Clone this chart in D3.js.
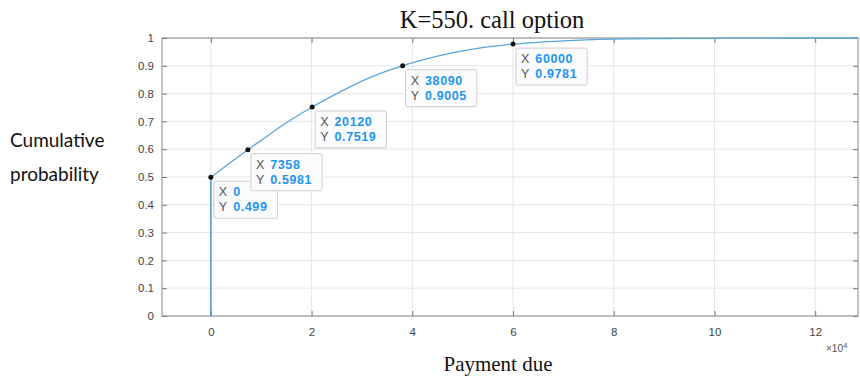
<!DOCTYPE html>
<html>
<head>
<meta charset="utf-8">
<script src="https://cdn.jsdelivr.net/npm/d3@7"></script>
<style>
  html, body { margin: 0; padding: 0; background: #ffffff; }
  svg { display: block; }
</style>
</head>
<body>
<svg id="chart" width="860" height="380"></svg>
<script>
// Cumulative distribution of the payment due for a call option with K=550
// Jump at zero: the probability mass of no payment
const jumpX = [0, 0];
const jumpY = [0, 0.499];
// Continuous part of the distribution
const curveX = [0, 7358, 10000, 15000, 20120, 25000, 30000, 38090, 45000, 52000, 60000, 70000, 80000, 90000, 100000, 115000, 128500];
const curveY = [0.499, 0.5981, 0.632, 0.695, 0.7519, 0.800, 0.845, 0.9005, 0.935, 0.960, 0.9781, 0.990, 0.996, 0.998, 0.999, 1.0, 1.0];

// Data tips shown on the curve
const tipX = [0, 7358, 20120, 38090, 60000];
const tipY = [0.499, 0.5981, 0.7519, 0.9005, 0.9781];
const tipXText = ["0", "7358", "20120", "38090", "60000"];
const tipYText = ["0.499", "0.5981", "0.7519", "0.9005", "0.9781"];

// Tick values and labels
const xTicks = [0, 20000, 40000, 60000, 80000, 100000, 120000];
const xTickLabels = ["0", "2", "4", "6", "8", "10", "12"];
const yTicks = [0, 0.1, 0.2, 0.3, 0.4, 0.5, 0.6, 0.7, 0.8, 0.9, 1];
const yTickLabels = ["0", "0.1", "0.2", "0.3", "0.4", "0.5", "0.6", "0.7", "0.8", "0.9", "1"];

const svg = d3.select("#chart");
const plotL = 162, plotR = 858, plotT = 38, plotB = 316;

const x = d3.scaleLinear().domain([-9700, 128500]).range([plotL, plotR]);
const y = d3.scaleLinear().domain([0, 1]).range([plotB, plotT]);

const tickFont = "Liberation Sans, Arial, sans-serif";
const serif = "Liberation Serif, Times New Roman, serif";

// Grid
const grid = svg.append("g");
grid.selectAll("line.gx").data(xTicks).enter().append("line")
  .attr("x1", d => x(d)).attr("x2", d => x(d))
  .attr("y1", plotT).attr("y2", plotB)
  .attr("stroke", "#e6e6e6").attr("stroke-width", 1);
grid.selectAll("line.gy").data(yTicks).enter().append("line")
  .attr("x1", plotL).attr("x2", plotR)
  .attr("y1", d => y(d)).attr("y2", d => y(d))
  .attr("stroke", "#e6e6e6").attr("stroke-width", 1);

// Axes (ticks pointing inward, labels outside)
const xAxis = d3.axisBottom(x).tickValues(xTicks).tickSize(-5)
  .tickFormat((d, i) => xTickLabels[i]).tickPadding(12);
const gx = svg.append("g").attr("transform", `translate(0,${plotB})`).call(xAxis);
gx.select(".domain").remove();
gx.selectAll(".tick line").attr("stroke", "#777");
gx.selectAll("text").attr("fill", "#444").style("font-family", tickFont).style("font-size", "11.5px");

const xAxisTop = d3.axisTop(x).tickValues(xTicks).tickSize(-5).tickFormat("");
const gxt = svg.append("g").attr("transform", `translate(0,${plotT})`).call(xAxisTop);
gxt.select(".domain").remove();
gxt.selectAll(".tick line").attr("stroke", "#777");

const yAxis = d3.axisLeft(y).tickValues(yTicks).tickSize(-5)
  .tickFormat((d, i) => yTickLabels[i]).tickPadding(8);
const gy = svg.append("g").attr("transform", `translate(${plotL},0)`).call(yAxis);
gy.select(".domain").remove();
gy.selectAll(".tick line").attr("stroke", "#777");
gy.selectAll("text").attr("fill", "#444").style("font-family", tickFont).style("font-size", "11.5px");

const yAxisRight = d3.axisRight(y).tickValues(yTicks).tickSize(-5).tickFormat("");
const gyr = svg.append("g").attr("transform", `translate(${plotR},0)`).call(yAxisRight);
gyr.select(".domain").remove();
gyr.selectAll(".tick line").attr("stroke", "#777");

// Axes box
svg.append("rect")
  .attr("x", plotL).attr("y", plotT)
  .attr("width", plotR - plotL).attr("height", plotB - plotT)
  .attr("fill", "none").attr("stroke", "#888").attr("stroke-width", 1);

// CDF: vertical jump at zero, then the smooth rise
const line = d3.line().x(d => x(d[0])).y(d => y(d[1]));
svg.append("path")
  .datum(jumpX.map((d, i) => [d, jumpY[i]]))
  .attr("d", line)
  .attr("fill", "none")
  .attr("stroke", "#4a9ad8")
  .attr("stroke-width", 1.5);

const smooth = d3.line().x(d => x(d[0])).y(d => y(d[1])).curve(d3.curveMonotoneX);
svg.append("path")
  .datum(curveX.map((d, i) => [d, curveY[i]]))
  .attr("d", smooth)
  .attr("fill", "none")
  .attr("stroke", "#5aa6dc")
  .attr("stroke-width", 1.3);

// Data tips
const tips = svg.append("g");
tipX.forEach((xv, i) => {
  const px = x(xv), py = y(tipY[i]);
  const g = tips.append("g").attr("transform", `translate(${px + 3},${py + 4})`);
  const rect = g.append("rect").attr("fill", "#fbfbfd").attr("stroke", "#cdcdd3")
    .attr("stroke-width", 1).attr("rx", 1.5);
  const t1 = g.append("text").attr("x", 5).attr("y", 15)
    .style("font-family", tickFont).style("font-size", "12.5px");
  t1.append("tspan").attr("fill", "#555").text("X");
  t1.append("tspan").attr("dx", 6).attr("fill", "#1d95f2").attr("font-weight", "bold")
    .style("letter-spacing", "0.6px").text(tipXText[i]);
  const t2 = g.append("text").attr("x", 5).attr("y", 30)
    .style("font-family", tickFont).style("font-size", "12.5px");
  t2.append("tspan").attr("fill", "#555").text("Y");
  t2.append("tspan").attr("dx", 6).attr("fill", "#1d95f2").attr("font-weight", "bold")
    .style("letter-spacing", "0.6px").text(tipYText[i]);
  const w = Math.max(t1.node().getBBox().width, t2.node().getBBox().width) + 15;
  rect.attr("width", w).attr("height", 37);
  svg.append("circle").attr("cx", px).attr("cy", py).attr("r", 2.5).attr("fill", "#111");
});

// Exponent label
const ex = svg.append("text").attr("x", 826).attr("y", 352)
  .attr("fill", "#555").style("font-family", tickFont).style("font-size", "10px");
ex.append("tspan").text("\u00d710");
ex.append("tspan").attr("dy", -4).attr("font-size", "8px").text("4");

// Title
svg.append("text").attr("x", 492).attr("y", 28).attr("text-anchor", "middle")
  .attr("fill", "#111").style("font-family", serif)
  .style("font-size", "24.5px").text("K=550. call option");

// Axis titles
svg.append("text").attr("x", 498).attr("y", 371).attr("text-anchor", "middle")
  .attr("fill", "#111").style("font-family", serif)
  .style("font-size", "21px").text("Payment due");

const yl = svg.append("text").attr("fill", "#111")
  .style("font-family", "Lato, Open Sans, sans-serif").style("font-size", "19px");
yl.append("tspan").attr("x", 10).attr("y", 147).text("Cumulative");
yl.append("tspan").attr("x", 10).attr("y", 181).text("probability");
</script>
</body>
</html>
